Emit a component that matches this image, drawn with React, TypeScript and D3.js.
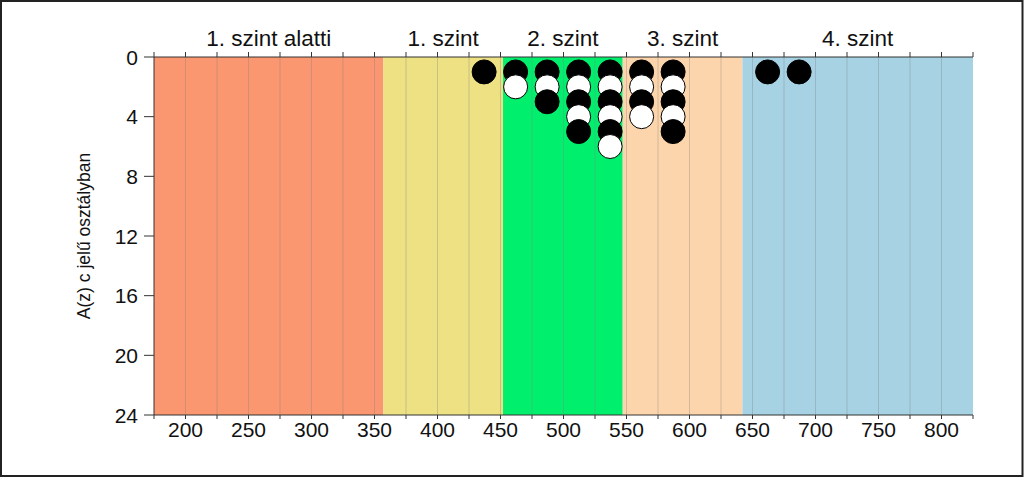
import React from 'react'
import * as d3 from 'd3'

// proficiency bands (score ranges) and their colours
const levelNames = ['1. szint alatti', '1. szint', '2. szint', '3. szint', '4. szint']
const levelBounds = [175, 357, 452, 547, 642, 825]
const levelColors = ['#FA9670', '#EDE184', '#00F06E', '#FDD5AC', '#A6D2E3']

// one column of dots per score; B = black, W = white, stacked from the top
const dotScores = [437, 462, 487, 512, 537, 562, 587, 662, 687]
const dotStacks = ['B', 'BW', 'BWB', 'BWBWB', 'BWBWBW', 'BWBW', 'BWBWB', 'B', 'B']

const yTicks = [0, 4, 8, 12, 16, 20, 24]
const xLabelTicks = [200, 250, 300, 350, 400, 450, 500, 550, 600, 650, 700, 750, 800]

const W = 1024
const H = 478
const m = { left: 154, right: 973, top: 57, bottom: 415 }
const FONT = '"Liberation Sans", Arial, sans-serif'

export default function App() {
  const x = d3.scaleLinear().domain([175, 825]).range([m.left, m.right])
  const y = d3.scaleLinear().domain([0, 24]).range([m.top, m.bottom])
  const minorTicks = d3.range(175, 826, 25)
  const gridTicks = minorTicks.filter((t) => t > 175 && t < 825)

  const dots = dotScores.flatMap((s, i) =>
    dotStacks[i].split('').map((c, j) => ({ score: s, count: j + 1, black: c === 'B' }))
  )

  return (
    <svg
      width={W}
      height={H}
      style={{ position: 'absolute', left: 0, top: 0, display: 'block', background: '#fff' }}
      fontFamily={FONT}
    >
      <rect x={1} y={1} width={W - 2.5} height={H - 3} fill="#fff" stroke="#222" strokeWidth={2} />

      {levelNames.map((name, i) => (
        <g key={name}>
          <rect
            x={x(levelBounds[i])}
            y={m.top}
            width={x(levelBounds[i + 1]) - x(levelBounds[i])}
            height={m.bottom - m.top}
            fill={levelColors[i]}
          />
          <text
            x={(x(levelBounds[i]) + x(levelBounds[i + 1])) / 2}
            y={46}
            textAnchor="middle"
            fontSize={22.5}
            fill="#111"
          >
            {name}
          </text>
        </g>
      ))}

      {gridTicks.map((t) => (
        <line key={t} x1={x(t)} x2={x(t)} y1={m.top} y2={m.bottom} stroke="rgba(130,130,130,0.35)" strokeWidth={1} />
      ))}

      {/* axes */}
      <line x1={m.left} x2={m.right} y1={m.top} y2={m.top} stroke="#333" />
      <line x1={m.left} x2={m.right} y1={m.bottom} y2={m.bottom} stroke="#333" />
      <line x1={m.left} x2={m.left} y1={m.top} y2={m.bottom} stroke="#333" />
      {minorTicks.map((t) => (
        <g key={t}>
          <line x1={x(t)} x2={x(t)} y1={m.top - 5} y2={m.top} stroke="#333" />
          <line x1={x(t)} x2={x(t)} y1={m.bottom} y2={m.bottom + 4} stroke="#333" />
        </g>
      ))}
      {xLabelTicks.map((t) => (
        <text key={t} x={x(t)} y={437} textAnchor="middle" fontSize={21} fill="#111">
          {t}
        </text>
      ))}
      {yTicks.map((t) => (
        <g key={t}>
          <line x1={m.left - 10} x2={m.left} y1={y(t)} y2={y(t)} stroke="#333" />
          <text x={138} y={y(t)} textAnchor="end" dominantBaseline="central" fontSize={21} fill="#111">
            {t}
          </text>
        </g>
      ))}
      <text
        transform={`translate(84,${(m.top + m.bottom) / 2}) rotate(-90)`}
        textAnchor="middle"
        dominantBaseline="central"
        fontSize={17.5}
        fill="#111"
      >
        A(z) c jelű osztályban
      </text>

      {dots.map((d, i) => (
        <circle
          key={i}
          cx={x(d.score)}
          cy={y(d.count)}
          r={12}
          fill={d.black ? '#000' : '#fff'}
          stroke="#000"
          strokeWidth={1}
        />
      ))}
    </svg>
  )
}
